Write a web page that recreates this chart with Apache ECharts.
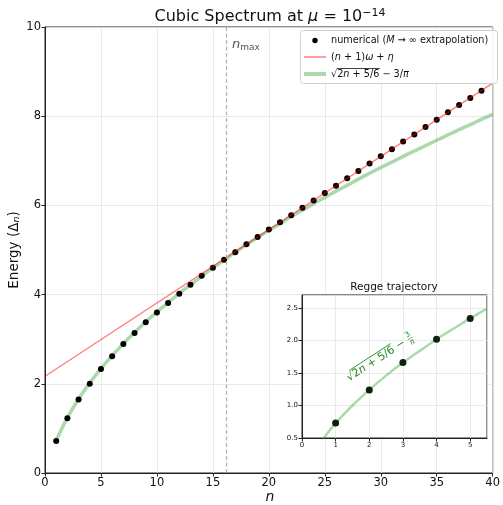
<!DOCTYPE html>
<html>
<head>
<meta charset="utf-8">
<script src="https://cdn.jsdelivr.net/npm/echarts@6/dist/echarts.min.js"></script>
<style>html,body{margin:0;padding:0;background:#fff}#c{width:503px;height:505px}</style>
</head>
<body>
<div id="c"></div>
<script>
// ---- data ----
const nNum = [1,2,3,4,5,6,7,8,9,10,11,12,13,14,15,16,17,18,19,20,21,22,23,24,25,26,27,28,29,30,31,32,33,34,35,36,37,38,39];
const eNum = [0.72,1.23,1.65,2.00,2.33,2.62,2.89,3.14,3.38,3.60,3.81,4.02,4.22,4.42,4.60,4.78,4.95,5.13,5.29,5.46,5.62,5.78,5.95,6.11,6.28,6.44,6.61,6.77,6.94,7.10,7.26,7.43,7.59,7.76,7.92,8.09,8.25,8.41,8.57];
const linN = [0, 40];
const linE = [2.17, 8.74];
const sqN = [1,2,3,4,5,6,7,8,9,10,11,12,13,14,15,16,17,18,19,20,21,22,23,24,25,26,27,28,29,30,31,32,33,34,35,36,37,38,39,40];
const sqE = [0.73,1.24,1.66,2.02,2.34,2.63,2.90,3.15,3.39,3.61,3.82,4.03,4.22,4.41,4.60,4.77,4.95,5.12,5.28,5.44,5.59,5.75,5.89,6.04,6.18,6.32,6.45,6.59,6.72,6.85,6.97,7.10,7.22,7.34,7.46,7.58,7.70,7.81,7.93,8.04];
const nMax = 16.2;
const inN = [1,2,3,4,5];
const inE = [0.73,1.24,1.66,2.02,2.34];
const inCurveN = [0.5,0.75,1,1.5,2,2.5,3,3.5,4,4.5,5,5.5];
const inCurveE = [0.40,0.57,0.73,1.00,1.24,1.46,1.66,1.84,2.02,2.18,2.34,2.49];
const xTicksMain = [0, 40, 5];
const yTicksMain = [0, 10, 2];
const xTicksInset = [0, 5.5, 1];
const yTicksInset = [0.5, 2.7, 0.5];
const legendLabels = ['numerical', 'linear', 'sqrt'];

const zip = (a, b) => a.map((v, i) => [v, b[i]]);
const FONT = 'DejaVu Sans';
const GREEN_LINE = 'rgba(44,160,44,0.4)';
const RED_LINE = 'rgba(255,0,0,0.5)';
const ANN = '#1a8a1a';

const mctx = document.createElement('canvas').getContext('2d');
function tw(s, fs, italic) {
  mctx.font = (italic ? 'italic ' : 'normal ') + 'normal ' + fs + 'px "' + FONT + '"';
  return mctx.measureText(s).width;
}

function pieces(list, x0, y0, fill, z) {
  const out = []; let x = x0; const pos = [];
  list.forEach(p => {
    pos.push(x);
    out.push({type: 'text', x: x, y: y0 + (p.dy || 0), z: z,
      style: {text: p.t, fontFamily: FONT, fontSize: p.fs, fontStyle: p.it ? 'italic' : 'normal', fill: fill, align: 'left', verticalAlign: 'middle'}});
    x += tw(p.t, p.fs, p.it);
  });
  pos.push(x);
  return {els: out, pos: pos};
}

const chart = echarts.init(document.getElementById('c'), null, {renderer: 'canvas'});
const axisCommon = (fs) => ({
  axisLine: {show: true, onZero: false, lineStyle: {color: '#222', width: 1}},
  axisTick: {show: true, inside: false, length: 3.5, lineStyle: {color: '#222'}},
  axisLabel: {color: '#111', fontFamily: FONT, fontSize: fs, margin: 4},
  splitLine: {show: true, lineStyle: {color: '#e5e5e5', width: 0.8}}
});

// ---------- legend (drawn as graphics) ----------
const LX = 300, LY = 30, LW = 197, LH = 53;
const rowY = [40.5, 57, 74];
const textX = 331;
const legendEls = [
  {type: 'rect', z: 20, shape: {x: LX + 0.5, y: LY + 0.5, width: LW, height: LH, r: 3},
   style: {fill: 'rgba(255,255,255,0.85)', stroke: '#d0d0d0', lineWidth: 1}},
  {type: 'circle', z: 21, shape: {cx: 315, cy: rowY[0], r: 2.7}, style: {fill: '#000'}},
  {type: 'line', z: 21, shape: {x1: 304, y1: rowY[1], x2: 326, y2: rowY[1]}, style: {stroke: RED_LINE, lineWidth: 1.5}},
  {type: 'line', z: 21, shape: {x1: 304, y1: rowY[2], x2: 326, y2: rowY[2]}, style: {stroke: GREEN_LINE, lineWidth: 4}}
];
const LF = 9.7;
const r0 = pieces([{t: 'numerical (', fs: LF}, {t: 'M', fs: LF, it: true}, {t: ' \u2192 \u221E extrapolation)', fs: LF}], textX, rowY[0], '#111', 21);
const r1 = pieces([{t: '(', fs: LF}, {t: 'n', fs: LF, it: true}, {t: ' + 1)', fs: LF}, {t: '\u03C9', fs: LF, it: true}, {t: ' + ', fs: LF}, {t: '\u03B7', fs: LF, it: true}], textX, rowY[1], '#111', 21);
const r2 = pieces([{t: '\u221A', fs: LF}, {t: '2', fs: LF}, {t: 'n', fs: LF, it: true}, {t: ' + 5/6', fs: LF}, {t: ' \u2212 3/', fs: LF}, {t: '\u03C0', fs: LF, it: true}], textX, rowY[2], '#111', 21);
legendEls.push(...r0.els, ...r1.els, ...r2.els);
legendEls.push({type: 'line', z: 21, shape: {x1: r2.pos[1] - 0.6, y1: rowY[2] - 5.5, x2: r2.pos[4] + 0.5, y2: rowY[2] - 5.5}, style: {stroke: '#111', lineWidth: 0.8}});

// ---------- rotated annotation in inset ----------
const AF = 11;
const FF = 7.5;
const ann = pieces([{t: '\u221A', fs: AF}, {t: '2', fs: AF}, {t: 'n', fs: AF, it: true}, {t: ' + 5/6', fs: AF}, {t: ' \u2212 ', fs: AF}], 0, 0, ANN, 12);
const fracX = ann.pos[5] + 0.5;
const fracW = tw('\u03C0', FF, true) + 1;
const annW = fracX + fracW;
const annChildren = ann.els.concat([
  {type: 'line', z: 12, shape: {x1: ann.pos[1] - 0.6, y1: -6.3, x2: ann.pos[4] + 0.5, y2: -6.3}, style: {stroke: ANN, lineWidth: 0.8}},
  {type: 'text', z: 12, x: fracX + fracW / 2, y: -4.3, style: {text: '3', fontFamily: FONT, fontSize: FF, fill: ANN, align: 'center', verticalAlign: 'middle'}},
  {type: 'line', z: 12, shape: {x1: fracX, y1: 0, x2: fracX + fracW, y2: 0}, style: {stroke: ANN, lineWidth: 0.6}},
  {type: 'text', z: 12, x: fracX + fracW / 2, y: 4.2, style: {text: '\u03C0', fontFamily: FONT, fontSize: FF, fontStyle: 'italic', fill: ANN, align: 'center', verticalAlign: 'middle'}}
]);
annChildren.forEach(c => { if (c.type === 'text') c.x -= annW / 2; else { c.shape.x1 -= annW / 2; c.shape.x2 -= annW / 2; } });

const option = {
  animation: false,
  backgroundColor: '#fff',
  grid: [
    {left: 45, right: 8, top: 27, bottom: 32, show: true, borderColor: '#222', borderWidth: 1, backgroundColor: 'transparent'},
    {left: 302, right: 16, top: 295, bottom: 67, show: true, borderColor: '#222', borderWidth: 1, backgroundColor: '#fff', z: 1}
  ],
  xAxis: [
    Object.assign({gridIndex: 0, type: 'value', min: xTicksMain[0], max: xTicksMain[1], interval: xTicksMain[2]}, axisCommon(11.5)),
    Object.assign({gridIndex: 1, type: 'value', min: xTicksInset[0], max: xTicksInset[1], interval: xTicksInset[2], z: 2}, axisCommon(7),
      {axisLabel: {color: '#111', fontFamily: FONT, fontSize: 7, margin: 4, showMaxLabel: false}})
  ],
  yAxis: [
    Object.assign({gridIndex: 0, type: 'value', min: yTicksMain[0], max: yTicksMain[1], interval: yTicksMain[2]}, axisCommon(11.5)),
    Object.assign({gridIndex: 1, type: 'value', min: yTicksInset[0], max: yTicksInset[1], interval: yTicksInset[2], z: 2}, axisCommon(7),
      {axisLabel: {color: '#111', fontFamily: FONT, fontSize: 7, margin: 4, showMaxLabel: false, formatter: v => v.toFixed(1)}})
  ],
  series: [
    {
      name: legendLabels[2], type: 'line', xAxisIndex: 0, yAxisIndex: 0, data: zip(sqN, sqE),
      smooth: 0.3, symbol: 'none', z: 2,
      lineStyle: {color: GREEN_LINE, width: 3.5},
      markLine: {
        silent: true, symbol: ['none', 'none'], label: {show: false},
        lineStyle: {color: '#b0b0b0', type: [4, 2.5], width: 1.2},
        data: [{xAxis: nMax}]
      }
    },
    {
      name: legendLabels[0], type: 'scatter', xAxisIndex: 0, yAxisIndex: 0, data: zip(nNum, eNum),
      symbol: 'circle', symbolSize: 6, z: 3, itemStyle: {color: '#000', opacity: 1}
    },
    {
      name: legendLabels[1], type: 'line', xAxisIndex: 0, yAxisIndex: 0, data: zip(linN, linE),
      symbol: 'none', z: 4,
      lineStyle: {color: RED_LINE, width: 1.4}
    },
    {
      name: 'insetCurve', type: 'line', xAxisIndex: 1, yAxisIndex: 1, data: zip(inCurveN, inCurveE),
      smooth: 0.3, symbol: 'none', z: 5, clip: true,
      lineStyle: {color: GREEN_LINE, width: 2.5}
    },
    {
      name: 'insetNum', type: 'scatter', xAxisIndex: 1, yAxisIndex: 1, data: zip(inN, inE),
      symbol: 'circle', symbolSize: 7, z: 6, itemStyle: {color: '#0f1f0f', opacity: 1}
    }
  ],
  graphic: [
    {
      type: 'text', x: 270, y: 17, z: 10,
      style: {
        text: '{a|Cubic Spectrum at }{i|\u03BC}{a| = 10}{s|\u221214}',
        align: 'center', verticalAlign: 'middle',
        rich: {
          a: {fontFamily: FONT, fontSize: 16, fill: '#111'},
          i: {fontFamily: FONT, fontSize: 16, fontStyle: 'italic', fill: '#111'},
          s: {fontFamily: FONT, fontSize: 11, fill: '#111', verticalAlign: 'top', padding: [0, 0, 7, 0]}
        }
      }
    },
    {
      type: 'text', x: 14, y: 250, rotation: Math.PI / 2, z: 10,
      style: {
        text: '{a|Energy (\u0394}{s|n}{a|)}',
        align: 'center', verticalAlign: 'middle',
        rich: {
          a: {fontFamily: FONT, fontSize: 13.5, fill: '#111'},
          s: {fontFamily: FONT, fontSize: 9.5, fontStyle: 'italic', fill: '#111', verticalAlign: 'bottom', padding: [5, 0, 0, 0]}
        }
      }
    },
    {
      type: 'text', x: 270, y: 497, z: 10,
      style: {text: 'n', fontFamily: FONT, fontSize: 14, fontStyle: 'italic', fill: '#111', align: 'center', verticalAlign: 'middle'}
    },
    {
      type: 'text', x: 232, y: 45, z: 10,
      style: {
        text: '{i|n}{s|max}',
        align: 'left', verticalAlign: 'middle',
        rich: {
          i: {fontFamily: FONT, fontSize: 13, fontStyle: 'italic', fill: '#555'},
          s: {fontFamily: FONT, fontSize: 9, fill: '#555', verticalAlign: 'bottom', padding: [6, 0, 0, 0]}
        }
      }
    },
    {
      type: 'text', x: 394, y: 287, z: 10,
      style: {text: 'Regge trajectory', fontFamily: FONT, fontSize: 10.5, fill: '#111', align: 'center', verticalAlign: 'middle'}
    },
    {type: 'group', x: 380, y: 358, rotation: 33 * Math.PI / 180, z: 12, children: annChildren},
    {type: 'group', z: 20, children: legendEls}
  ]
};
chart.setOption(option);
</script>
</body>
</html>
